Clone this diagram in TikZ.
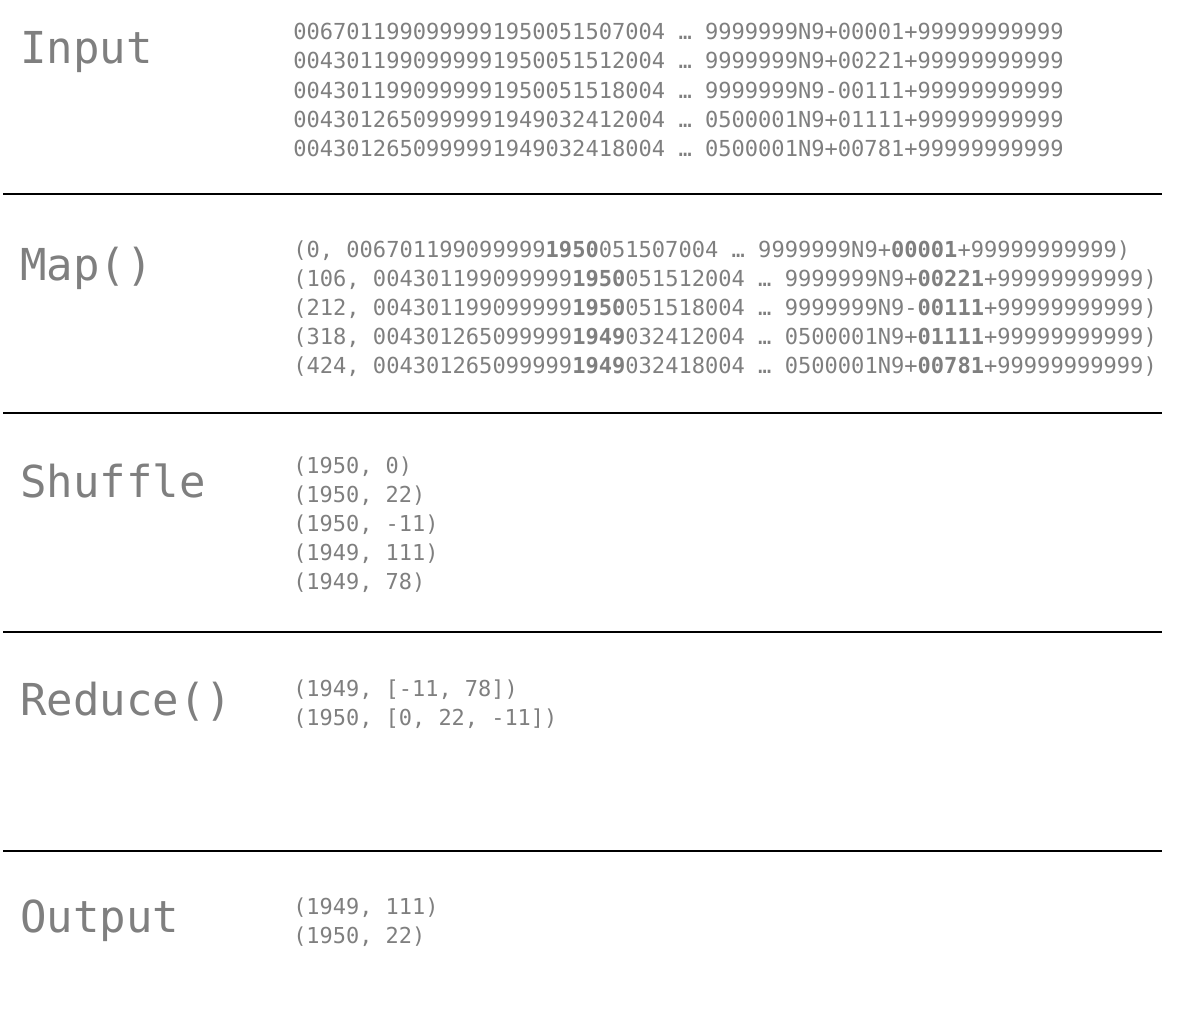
\documentclass[tikz,border=0pt]{standalone}
\usepackage{fontspec}
\setmonofont{DejaVu Sans Mono}
\definecolor{labelgray}{HTML}{7F7F7F}
\begin{document}
\begin{tikzpicture}[x=0.75pt,y=-0.75pt,
  stage/.style={anchor=base west,inner sep=0pt,text=labelgray,font=\ttfamily\fontsize{33}{40}\selectfont},
  rows/.style={anchor=west,inner sep=0pt,align=left,text=labelgray,font=\ttfamily\fontsize{16.45}{21.8}\selectfont},
  maprows/.style={rows,font=\ttfamily\fontsize{16.55}{21.8}\selectfont},
  rule/.style={line width=0.9pt,black}]
\useasboundingbox (0,0) rectangle (1190,1032);
\node [stage] (input) at (20,63) {Input};
\node [stage] (map) at (20,280) {Map()};
\node [stage] (shuffle) at (20,497) {Shuffle};
\node [stage] (reduce) at (20,715) {Reduce()};
\node [stage] (output) at (20,932) {Output};
\node [rows,font=\ttfamily\fontsize{16.55}{21.9}\selectfont] (inputrows) at (293,90) {0067011990999991950051507004 … 9999999N9+00001+99999999999\\
0043011990999991950051512004 … 9999999N9+00221+99999999999\\
0043011990999991950051518004 … 9999999N9-00111+99999999999\\
0043012650999991949032412004 … 0500001N9+01111+99999999999\\
0043012650999991949032418004 … 0500001N9+00781+99999999999};
\node [maprows] (maprowsA) at (293,308.5) {(0, 006701199099999\textbf{1950}051507004 … 9999999N9+\textbf{00001}+99999999999)\\
(106, 004301199099999\textbf{1950}051512004 … 9999999N9+\textbf{00221}+99999999999)\\
(212, 004301199099999\textbf{1950}051518004 … 9999999N9-\textbf{00111}+99999999999)\\
(318, 004301265099999\textbf{1949}032412004 … 0500001N9+\textbf{01111}+99999999999)\\
(424, 004301265099999\textbf{1949}032418004 … 0500001N9+\textbf{00781}+99999999999)};
\node [rows] (shufflerows) at (293,525) {(1950, 0)\\
(1950, 22)\\
(1950, -11)\\
(1949, 111)\\
(1949, 78)};
\node [rows] (reducerows) at (293,704.5) {(1949, [-11, 78])\\
(1950, [0, 22, -11])};
\node [rows] (outputrows) at (293,922.5) {(1949, 111)\\
(1950, 22)};
\foreach \y/\n in {194/1,413/2,632/3,851/4}{
  \coordinate (ruleL\n) at (3,\y);
  \coordinate (ruleR\n) at (1162,\y);
  \draw [rule] (ruleL\n) -- (ruleR\n);
}
\end{tikzpicture}
\end{document}
